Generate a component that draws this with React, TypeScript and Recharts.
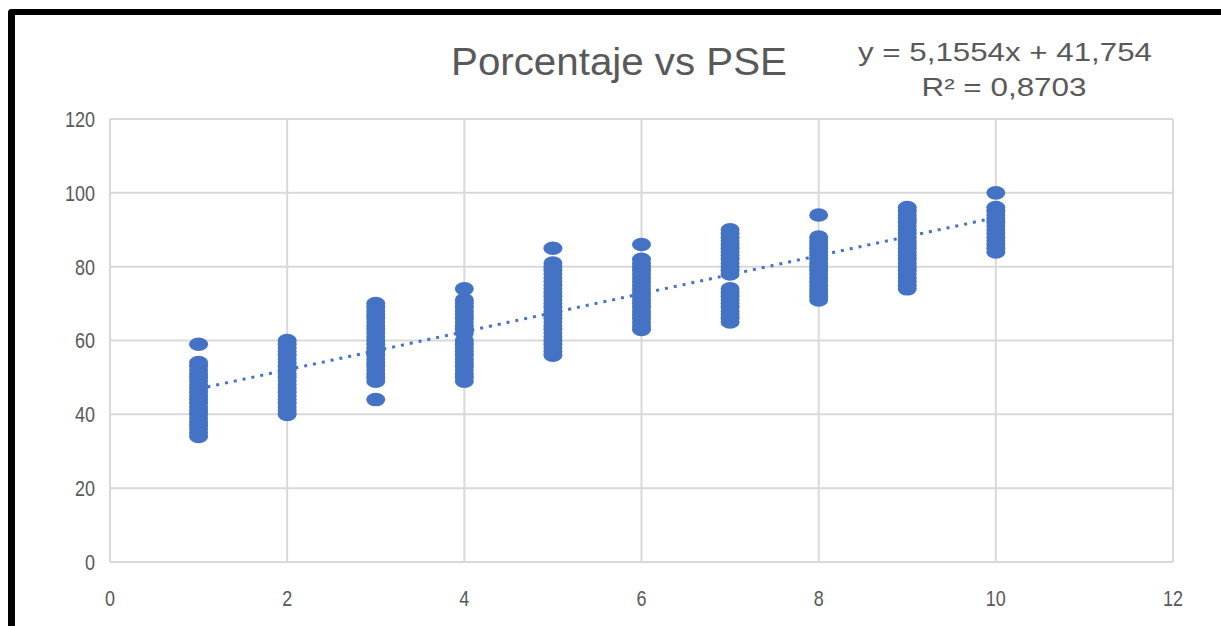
import React from 'react';
import { ScatterChart, Scatter, XAxis, YAxis, CartesianGrid } from 'recharts';

const xTicks = [0, 2, 4, 6, 8, 10, 12];
const yTicks = [0, 20, 40, 60, 80, 100, 120];

const pse1 = [59, 54, 53, 52, 51, 50, 49, 48, 47, 46, 45, 44, 43, 42, 41, 40, 39, 38, 37, 36, 35, 34];
const pse2 = [60, 59, 58, 57, 56, 55, 54, 53, 52, 51, 50, 49, 48, 47, 46, 45, 44, 43, 42, 41, 40];
const pse3 = [70, 69, 68, 67, 66, 65, 64, 63, 62, 61, 60, 59, 58, 57, 56, 55, 54, 53, 52, 51, 50, 49, 44];
const pse4 = [74, 71, 70, 69, 68, 67, 66, 65, 64, 63, 62, 60, 59, 58, 57, 56, 55, 54, 53, 52, 51, 50, 49];
const pse5 = [85, 81, 80, 79, 78, 77, 76, 75, 74, 73, 72, 71, 70, 69, 68, 67, 66, 65, 64, 63, 62, 61, 60, 59, 58, 57, 56];
const pse6 = [86, 82, 81, 80, 79, 78, 77, 76, 75, 74, 73, 72, 71, 70, 69, 68, 67, 66, 65, 64, 63];
const pse7 = [90, 89, 88, 87, 86, 85, 84, 83, 82, 81, 80, 79, 78, 74, 73, 72, 71, 70, 69, 68, 67, 66, 65];
const pse8 = [94, 88, 87, 86, 85, 84, 83, 82, 81, 80, 79, 78, 77, 76, 75, 74, 73, 72, 71];
const pse9 = [96, 95, 94, 93, 92, 91, 90, 89, 88, 87, 86, 85, 84, 83, 82, 81, 80, 79, 78, 77, 76, 75, 74];
const pse10 = [100, 96, 95, 94, 93, 92, 91, 90, 89, 88, 87, 86, 85, 84];

const groups = [pse1, pse2, pse3, pse4, pse5, pse6, pse7, pse8, pse9, pse10];

const slope = 5.1554;
const intercept = 41.754;
const trendX = [1, 10];

const points = groups.flatMap((vals, i) => vals.map((v) => ({ x: i + 1, y: v })));
const trend = trendX.map((x) => ({ x, y: slope * x + intercept }));

const BLUE = '#4472C4';
const GRID = '#d9d9d9';
const TEXT = '#595959';
const FONT = "'Liberation Sans', Arial, sans-serif";

const Ellipse = (props: any) => {
  const { cx, cy } = props;
  if (cx == null || cy == null) return <g />;
  return <ellipse cx={cx} cy={cy} rx={9.5} ry={6.8} fill={BLUE} />;
};

const NoShape = () => <g />;

const YTick = (props: any) => {
  const { x, y, payload } = props;
  const s = String(payload.value);
  return (
    <text x={x} y={y} dy="0.36em" textAnchor="end" fill={TEXT} fontSize={22} fontFamily={FONT} textLength={s.length * 10} lengthAdjust="spacingAndGlyphs">
      {s}
    </text>
  );
};

const XTick = (props: any) => {
  const { x, y, payload } = props;
  const s = String(payload.value);
  return (
    <text x={x} y={y} dy="0.71em" textAnchor="middle" fill={TEXT} fontSize={22} fontFamily={FONT} textLength={s.length * 10} lengthAdjust="spacingAndGlyphs">
      {s}
    </text>
  );
};

export default function App() {
  return (
    <div style={{ position: 'absolute', left: 0, top: 0, width: 1221, height: 626, background: '#fff', overflow: 'hidden' }}>
      <ScatterChart
        width={1221}
        height={626}
        margin={{ top: 119, right: 48, bottom: 0, left: 0 }}
      >
        <CartesianGrid stroke={GRID} strokeWidth={2} />
        <XAxis
          type="number"
          dataKey="x"
          domain={[0, 12]}
          ticks={xTicks}
          interval={0}
          height={64}
          tickLine={false}
          axisLine={{ stroke: GRID, strokeWidth: 2 }}
          tickMargin={22}
          tick={<XTick />}
        />
        <YAxis
          type="number"
          dataKey="y"
          domain={[0, 120]}
          ticks={yTicks}
          interval={0}
          width={110}
          tickLine={false}
          axisLine={false}
          tickMargin={9}
          tick={<YTick />}
        />
        <Scatter
          data={trend}
          isAnimationActive={false}
          shape={NoShape}
          line={{ stroke: BLUE, strokeWidth: 3, strokeDasharray: '3 6' }}
        />
        <Scatter data={points} isAnimationActive={false} shape={Ellipse} />
      </ScatterChart>
      <svg
        width={1221}
        height={626}
        style={{ position: 'absolute', left: 0, top: 0, pointerEvents: 'none' }}
      >
        <text x={619} y={75} textAnchor="middle" fill={TEXT} fontSize={38} fontFamily={FONT} textLength={336} lengthAdjust="spacingAndGlyphs">
          Porcentaje vs PSE
        </text>
        <text x={1005} y={61} textAnchor="middle" fill={TEXT} fontSize={26} fontFamily={FONT} textLength={294} lengthAdjust="spacingAndGlyphs">
          y = 5,1554x + 41,754
        </text>
        <text x={1004} y={96} textAnchor="middle" fill={TEXT} fontSize={26} fontFamily={FONT} textLength={165} lengthAdjust="spacingAndGlyphs">
          R² = 0,8703
        </text>
      </svg>
      <div
        style={{
          position: 'absolute',
          left: 8,
          top: 9,
          width: 1221,
          height: 640,
          borderTop: '6px solid #000',
          borderLeft: '7px solid #000',
          borderTopLeftRadius: 4,
          pointerEvents: 'none',
        }}
      />
    </div>
  );
}
